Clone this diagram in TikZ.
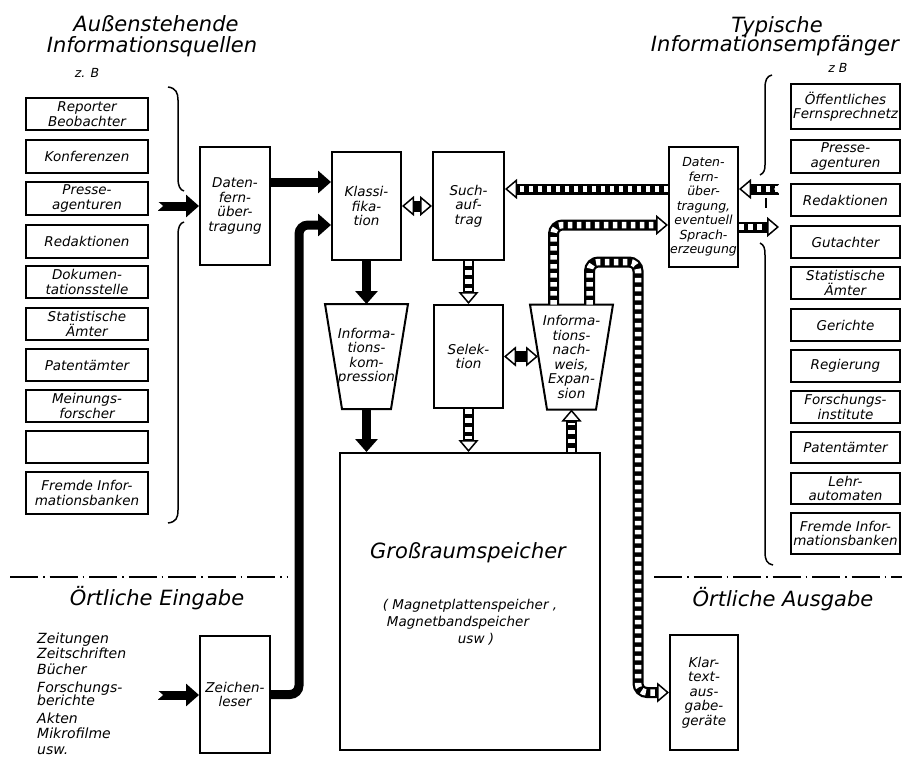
\documentclass[tikz,border=0pt]{standalone}
\usepackage{fontspec}
\setmainfont{DejaVu Sans}
\usetikzlibrary{arrows.meta,calc}
\newcommand\bxf{\fontsize{13.5}{14.5}\selectfont\itshape}
\newcommand\bxs{\fontsize{12.5}{14.5}\selectfont\itshape}
\newcommand\ttf{\fontsize{21}{23}\selectfont\itshape}
\newcommand\zbf{\fontsize{12.5}{13}\selectfont\itshape}
\newcommand\lsf{\fontsize{14}{15}\selectfont\itshape}
\newcommand\gsf{\fontsize{13.5}{15}\selectfont\itshape}
\newcommand\bx[6]{\node[box,minimum width={(#4-#2)*1pt},minimum height={(#5-#3)*1pt}] (#1) at ({(#2+#4)/2},{(#3+#5)/2}) {#6};}
\newcommand\sarrow[3]{\draw[stb,#1] #3; \draw[stw,#2] #3;}
\begin{document}
\begin{tikzpicture}[x=1pt,y=-1pt,
  box/.style={draw,line width=2pt,inner sep=0pt,align=center,font=\bxf},
  tbox/.style={inner sep=0pt,outer sep=1pt,align=center,font=\bxf,minimum width=81pt,minimum height=103pt},
  trapline/.style={line width=2pt,line join=miter},
  blk/.style={line width=9pt,rounded corners=9pt,-{Triangle[length=13pt,width=22pt]}},
  stb/.style={line width=11pt,rounded corners=9pt},
  stw/.style={line width=6.5pt,white,rounded corners=9pt,dash pattern=on 4.5pt off 4.5pt},
  hol/.tip={Triangle[open,fill=white,length=12pt,width=20pt,line width=1.5pt]},
  brc/.style={line width=1.5pt},
  dd/.style={line width=1.3pt,dash pattern=on 28pt off 5pt on 1.5pt off 5pt}]
\useasboundingbox (0,0) rectangle (902,765);
\fill[white] (0,0) rectangle (902,765);

% titles
\node[anchor=base,font=\ttf] (t1a) at (156,32) {Außenstehende};
\node[anchor=base,font=\ttf] (t1b) at (152,53) {Informationsquellen};
\node[anchor=base,font=\zbf] (t1c) at (87,78) {z. B};
\node[anchor=base,font=\ttf] (t2a) at (777,33) {Typische};
\node[anchor=base,font=\ttf] (t2b) at (775,52) {Informationsempfänger};
\node[anchor=base,font=\zbf] (t2c) at (838,73) {z B};

% left sources
\bx{rep}{26}{98}{148}{130}{Reporter\\Beobachter}
\bx{kon}{26}{140}{148}{173}{Konferenzen}
\bx{pre}{26}{182}{148}{215}{Presse-\\agenturen}
\bx{red}{26}{225}{148}{258}{Redaktionen}
\bx{dok}{26}{266}{148}{298}{Dokumen-\\tationsstelle}
\bx{sta}{26}{308}{148}{340}{Statistische\\Ämter}
\bx{pat}{26}{349}{148}{381}{Patentämter}
\bx{mei}{26}{390}{148}{422}{Meinungs-\\forscher}
\bx{emp}{26}{431}{148}{463}{}
\bx{fre}{26}{472}{148}{514}{Fremde Infor-\\mationsbanken}

% right receivers
\bx{r1}{791}{84}{900}{129}{Öffentliches\\Fernsprechnetz}
\bx{r2}{791}{140}{900}{173}{Presse-\\agenturen}
\bx{r3}{791}{184}{900}{216}{Redaktionen}
\bx{r4}{791}{226}{900}{258}{Gutachter}
\bx{r5}{791}{267}{900}{299}{Statistische\\Ämter}
\bx{r6}{791}{309}{900}{341}{Gerichte}
\bx{r7}{791}{350}{900}{382}{Regierung}
\bx{r8}{791}{391}{900}{423}{Forschungs-\\institute}
\bx{r9}{791}{432}{900}{463}{Patentämter}
\bx{r10}{791}{473}{900}{504}{Lehr-\\automaten}
\bx{r11}{791}{513}{900}{554}{Fremde Infor-\\mationsbanken}

% braces
\draw[brc] (168,87) .. controls (176,88) and (178,93) .. (178,100) -- (178,178) .. controls (178,186) and (180,190) .. (184,191);
\draw[brc] (184,222) .. controls (180,223) and (178,227) .. (178,235) -- (178,510) .. controls (178,518) and (176,522) .. (168,523);
\draw[brc] (772,75) .. controls (767,76) and (765,80) .. (765,88) -- (765,165) .. controls (765,170) and (764,173) .. (760,175);
\draw[brc] (760,243) .. controls (764,245) and (765,248) .. (765,255) -- (765,552) .. controls (765,560) and (767,564) .. (773,565);
\draw[brc] (766,198) -- (766,208);

% central blocks
\bx{dfl}{200}{147}{270}{265}{Daten-\\fern-\\über-\\tragung}
\bx{kla}{332}{152}{401}{260}{Klassi-\\fika-\\tion}
\bx{such}{433}{152}{504}{260}{Such-\\auf-\\trag}
\bx{sel}{434}{305}{503}{408}{Selek-\\tion}
\node[box,font=\bxs,minimum width=69pt,minimum height=120pt] (dfr) at (703.5,207) {Daten-\\fern-\\über-\\tragung,\\eventuell\\Sprach-\\erzeugung};
\bx{gross}{340}{453}{600}{750}{}
\bx{zl}{200}{636}{270}{753}{Zeichen-\\leser}
\bx{kt}{670}{635}{738}{750}{Klar-\\text-\\aus-\\gabe-\\geräte}

% trapezoids (text node + outline drawn from its corners)
\node[tbox] (komp) at (366.5,356.5) {Informa-\\tions-\\kom-\\pression};
\draw[trapline] (komp.north west) -- (komp.north east) -- ([xshift=-17pt]komp.south east) -- ([xshift=17pt]komp.south west) -- cycle;
\node[tbox] (exp) at (571.5,357) {Informa-\\tions-\\nach-\\weis,\\Expan-\\sion};
\draw[trapline] (exp.north west) -- (exp.north east) -- ([xshift=-17pt]exp.south east) -- ([xshift=17pt]exp.south west) -- cycle;

\node[anchor=base,font=\ttf] (g1) at (468,558) {Großraumspeicher};
\node[anchor=base,font=\gsf] (g2) at (470,609) {( Magnetplattenspeicher ,};
\node[anchor=base,font=\gsf] (g3) at (458,626) {Magnetbandspeicher};
\node[anchor=base,font=\gsf] (g4) at (476,643) {usw )};

% local input/output
\draw[dd] (10,577) -- (287,577);
\draw[dd] (654,577) -- (902,577);
\node[anchor=base,font=\ttf] (oe) at (157,605) {Örtliche Eingabe};
\node[anchor=base,font=\ttf] (oa) at (783,606) {Örtliche Ausgabe};
\foreach \t/\y [count=\i] in {Zeitungen/643,Zeitschriften/658,Bücher/674,Forschungs-/692,berichte/705,Akten/723,Mikrofilme/738,usw./754}
  \node[anchor=base west,inner sep=0pt,font=\lsf] (li\i) at (37,\y) {\t};

% coordinates for free ends
\coordinate (lin) at (158,206);
\coordinate (zin) at (158,695);
\coordinate (rin) at (779,189);
\coordinate (rout) at (779,227);
\coordinate (bendA) at (638,262);

% black arrows
\draw[blk] (lin) -- (lin -| dfl.west);
\draw[blk] (zin) -- (zin -| zl.west);
\fill[white] (156,200) -- (163,206) -- (156,212) -- cycle;
\fill[white] (156,689) -- (163,695) -- (156,701) -- cycle;
\draw[blk] ([yshift=24pt]dfl.east) -- ([yshift=24pt]dfl.east -| kla.west);
\draw[blk] (zl.east) -| ([xshift=-32pt,yshift=-19pt]kla.west) -- ([yshift=-19pt]kla.west);
\draw[blk] (kla.south) -- (komp.north);
\draw[blk] (komp.south) -- (komp.south |- gross.north);

% striped arrows
\draw[stb,hol-hol] (kla.east) -- (such.west);
\draw[stb,hol-hol] (sel.east) -- ([xshift=8pt]sel.east -| exp.west);
\sarrow{-hol}{shorten >=13pt}{(such.south) -- (sel.north)}
\sarrow{-hol}{shorten >=13pt}{(sel.south) -- (sel.south |- gross.north)}
\sarrow{-hol}{shorten >=13pt}{(exp.south |- gross.north) -- (exp.south)}
\sarrow{-hol}{shorten >=13pt}{([yshift=18pt]dfr.west) -- ([yshift=18pt]dfr.west -| such.east)}
\sarrow{-hol}{shorten >=13pt}{([xshift=-18pt]exp.north) |- ([yshift=-18pt]dfr.west)}
\sarrow{-hol}{shorten >=13pt}{([xshift=18pt]exp.north) |- (bendA) |- (kt.west)}
\sarrow{-hol}{shorten >=13pt}{(rin) -- (rin -| dfr.east)}
\sarrow{-hol}{shorten >=13pt}{([yshift=-20pt]dfr.east) -- (rout)}
\fill[white] (781,183) -- (774,189) -- (781,195) -- cycle;
\end{tikzpicture}
\end{document}
